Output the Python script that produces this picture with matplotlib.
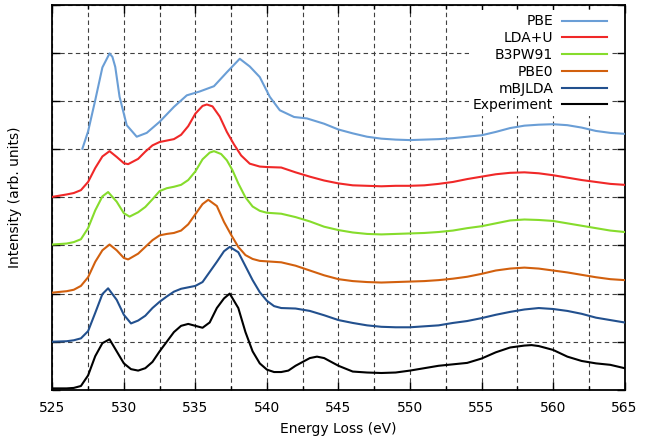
import matplotlib
matplotlib.use("Agg")
import matplotlib.pyplot as plt
from matplotlib.ticker import MultipleLocator

# values; curves are stacked by 1 unit each
e_exp = [525, 526, 526.5, 527, 527.5, 528, 528.5, 529, 529.5, 530, 530.5, 531, 531.5,
         532, 532.5, 533, 533.5, 534, 534.5, 535, 535.5, 536, 536.5, 537, 537.4,
         538, 538.5, 539, 539.5, 540, 540.5, 541, 541.5, 542, 542.5, 543, 543.5,
         544, 544.5, 545, 546, 547, 548, 549, 550, 551, 552, 553, 554, 555, 556,
         557, 558, 558.5, 559, 560, 561, 562, 563, 564, 565]
i_exp = [0.03, 0.03, 0.04, 0.08, 0.30, 0.70, 0.97, 1.05, 0.80, 0.55, 0.43, 0.40, 0.45,
         0.58, 0.80, 1.00, 1.20, 1.33, 1.37, 1.33, 1.29, 1.40, 1.70, 1.90, 2.00,
         1.70, 1.20, 0.80, 0.55, 0.42, 0.37, 0.37, 0.40, 0.50, 0.58, 0.66, 0.69,
         0.66, 0.58, 0.50, 0.38, 0.36, 0.35, 0.36, 0.40, 0.45, 0.50, 0.53, 0.56,
         0.65, 0.78, 0.88, 0.92, 0.93, 0.91, 0.83, 0.69, 0.60, 0.55, 0.52, 0.45]

e_mbj = [525, 526, 526.5, 527, 527.5, 528, 528.5, 528.9, 529.5, 530, 530.5, 531, 531.5,
         532, 532.5, 533, 533.5, 534, 534.5, 535, 535.5, 536, 536.5, 537, 537.4,
         538, 538.5, 539, 539.5, 540, 540.5, 541, 542, 543, 544, 545, 546, 547, 548,
         549, 550, 551, 552, 553, 554, 555, 556, 557, 558, 559, 560, 561, 562, 563,
         564, 565]
i_mbj = [0.00, 0.01, 0.03, 0.07, 0.22, 0.60, 0.99, 1.11, 0.87, 0.56, 0.38, 0.44, 0.54,
         0.70, 0.83, 0.94, 1.04, 1.10, 1.13, 1.16, 1.24, 1.45, 1.66, 1.88, 1.97,
         1.86, 1.57, 1.28, 1.03, 0.85, 0.74, 0.70, 0.69, 0.64, 0.55, 0.45, 0.39, 0.34, 0.31,
         0.30, 0.30, 0.32, 0.34, 0.39, 0.43, 0.49, 0.56, 0.62, 0.67, 0.70, 0.68, 0.64, 0.58, 0.50,
         0.45, 0.40]

e_pbe0 = [525, 526, 526.5, 527, 527.5, 528, 528.5, 529, 529.5, 530, 530.3, 531, 531.5,
          532, 532.5, 533, 533.5, 534, 534.5, 535, 535.5, 535.9, 536.5, 537, 537.5,
          538, 538.5, 539, 539.5, 540, 541, 542, 543, 544, 545, 546, 547, 548, 549,
          550, 551, 552, 553, 554, 555, 556, 557, 558, 559, 560, 561, 562, 563, 564, 565]
i_pbe0 = [0.02, 0.05, 0.08, 0.16, 0.34, 0.66, 0.90, 1.02, 0.90, 0.74, 0.71, 0.83, 0.97,
          1.11, 1.21, 1.24, 1.26, 1.31, 1.44, 1.65, 1.86, 1.95, 1.82, 1.49, 1.22,
          0.97, 0.80, 0.72, 0.68, 0.67, 0.65, 0.58, 0.48, 0.38, 0.30, 0.26, 0.24, 0.23, 0.24,
          0.25, 0.26, 0.28, 0.31, 0.35, 0.41, 0.48, 0.52, 0.54, 0.52, 0.48, 0.44, 0.39, 0.34, 0.30, 0.28]

e_b3 = [525, 526, 526.5, 527, 527.5, 528, 528.5, 528.9, 529.5, 530, 530.4, 531, 531.5,
        532, 532.5, 533, 533.5, 534, 534.5, 535, 535.5, 536, 536.3, 536.8, 537.2, 537.6,
        538, 538.5, 539, 539.5, 540, 541, 542, 543, 544, 545, 546, 547, 548, 549,
        550, 551, 552, 553, 554, 555, 556, 557, 558, 559, 560, 561, 562, 563, 564, 565]
i_b3 = [0.02, 0.04, 0.07, 0.13, 0.36, 0.73, 1.02, 1.11, 0.91, 0.67, 0.60, 0.69, 0.80,
        0.96, 1.13, 1.19, 1.22, 1.26, 1.36, 1.54, 1.79, 1.93, 1.96, 1.90, 1.77, 1.56,
        1.29, 1.00, 0.81, 0.72, 0.68, 0.66, 0.59, 0.50, 0.39, 0.32, 0.27, 0.24, 0.23, 0.24,
        0.25, 0.26, 0.28, 0.31, 0.36, 0.40, 0.46, 0.52, 0.54, 0.53, 0.51, 0.46, 0.41, 0.36, 0.31, 0.28]

e_ldau = [525, 526, 526.5, 527, 527.5, 528, 528.5, 529, 529.5, 530, 530.3, 531, 531.5,
          532, 532.5, 533, 533.5, 534, 534.5, 535, 535.5, 535.8, 536.2, 536.7, 537.2,
          537.7, 538.2, 538.8, 539.5, 540, 541, 542, 543, 544, 545, 546, 547, 548, 549,
          550, 551, 552, 553, 554, 555, 556, 557, 558, 559, 560, 561, 562, 563, 564, 565]
i_ldau = [0.01, 0.06, 0.09, 0.15, 0.32, 0.61, 0.85, 0.96, 0.84, 0.71, 0.69, 0.80, 0.95,
          1.08, 1.15, 1.18, 1.21, 1.30, 1.48, 1.74, 1.90, 1.93, 1.89, 1.68, 1.36,
          1.10, 0.87, 0.70, 0.64, 0.63, 0.62, 0.52, 0.43, 0.35, 0.29, 0.25, 0.24, 0.23, 0.24,
          0.24, 0.25, 0.28, 0.32, 0.38, 0.43, 0.48, 0.51, 0.52, 0.50, 0.46, 0.41, 0.36, 0.32, 0.28, 0.26]

e_pbe = [527.1, 527.5, 528, 528.5, 529, 529.2, 529.4, 529.7, 530.2, 530.9, 531.6, 532.5,
         533.5, 534.4, 535.3, 536.3, 537.2, 538.1, 538.8, 539.5, 540.2, 540.9, 541.9,
         542.8, 544, 545, 546, 547, 548, 549, 550, 551, 552, 553, 554, 555, 556, 557,
         558, 559, 560, 561, 562, 563, 564, 565]
i_pbe = [0.01, 0.37, 1.02, 1.70, 1.99, 1.92, 1.71, 1.09, 0.50, 0.26, 0.34, 0.57,
         0.88, 1.12, 1.20, 1.31, 1.60, 1.88, 1.72, 1.50, 1.09, 0.81, 0.67,
         0.64, 0.53, 0.41, 0.33, 0.26, 0.22, 0.20, 0.19, 0.20, 0.21, 0.23, 0.26, 0.29, 0.36, 0.44,
         0.49, 0.51, 0.52, 0.50, 0.45, 0.38, 0.34, 0.32]

labels = ["PBE", "LDA+U", "B3PW91", "PBE0", "mBJLDA", "Experiment"]
offsets = [5, 4, 3, 2, 1, 0]
colors = ["#6a9ed6", "#f02828", "#86dc2c", "#d2600e", "#22508e", "#000000"]
energies = [e_pbe, e_ldau, e_b3, e_pbe0, e_mbj, e_exp]
intensities = [i_pbe, i_ldau, i_b3, i_pbe0, i_mbj, i_exp]

fig = plt.figure(figsize=(6.54, 4.43), dpi=100)
ax = fig.add_axes([0.080, 0.120, 0.875, 0.869])

for e, i, off, c, lab in zip(energies, intensities, offsets, colors, labels):
    ax.plot(e, [v + off for v in i], color=c, linewidth=1.5, label=lab, zorder=3,
            solid_joinstyle="round")

ax.set_xlim(525, 565)
ax.set_ylim(0, 8)
ax.xaxis.set_major_locator(MultipleLocator(5))
ax.xaxis.set_minor_locator(MultipleLocator(2.5))
ax.yaxis.set_major_locator(MultipleLocator(1))
ax.set_yticklabels([])
ax.tick_params(which="both", direction="in", top=True, right=True, labelsize=10, pad=8)
ax.tick_params(which="major", length=6, width=1)
ax.tick_params(which="minor", length=3, width=1)
ax.grid(True, which="both", axis="x", color="0.25", linestyle=(0, (4, 3)), linewidth=0.8, zorder=1)
ax.grid(True, which="major", axis="y", color="0.25", linestyle=(0, (4, 3)), linewidth=0.8, zorder=1)
ax.set_axisbelow(True)
for s in ax.spines.values():
    s.set_linewidth(1.3)

ax.set_xlabel("Energy Loss (eV)", fontsize=10, labelpad=5)
ax.set_ylabel("Intensity (arb. units)", fontsize=10, labelpad=14)

leg = ax.legend(loc="upper right", bbox_to_anchor=(0.976, 0.986), markerfirst=False,
                frameon=True, fancybox=False, framealpha=1, edgecolor="none",
                facecolor="white", fontsize=10, handlelength=3.2, handletextpad=0.65,
                labelspacing=0.2, borderpad=0.3, borderaxespad=0)
leg.set_zorder(5)
for t in leg.get_texts():
    t.set_ha("right")

fig.savefig("out.png", dpi=100)
